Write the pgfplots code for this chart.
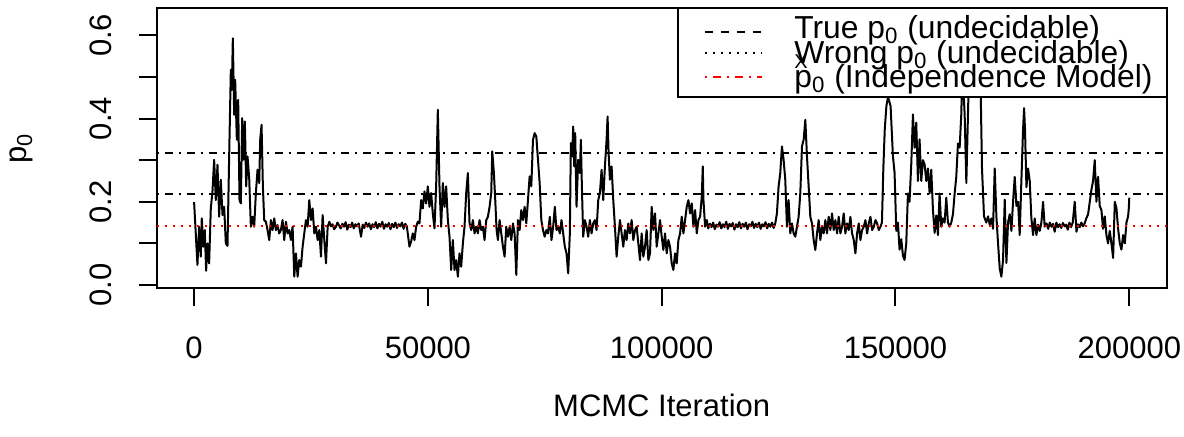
\documentclass[border=0pt]{standalone}
\usepackage{fontspec}
\setmainfont{Liberation Sans}
\usepackage{pgfplots}
\usepackage{pgfplotstable}
\pgfplotsset{compat=1.18}

% MCMC trace of p0
\pgfplotstableread{
it p0
0 0.199
714 0.048
1071 0.140
1428 0.068
1642 0.160
1999 0.092
2285 0.132
2570 0.034
2856 0.100
3213 0.052
3570 0.184
3927 0.225
4284 0.301
4641 0.204
4998 0.289
5355 0.164
5712 0.253
6069 0.168
6426 0.188
6783 0.100
7140 0.094
7497 0.309
7854 0.517
8068 0.469
8282 0.593
8568 0.409
8782 0.493
9139 0.349
9425 0.445
9710 0.204
9996 0.196
10282 0.401
10567 0.301
10853 0.393
11138 0.237
11424 0.309
11781 0.257
12138 0.140
12495 0.164
12852 0.140
13209 0.221
13566 0.277
13923 0.245
14137 0.349
14423 0.385
14708 0.237
14994 0.156
15351 0.152
15708 0.132
16065 0.108
16422 0.156
16779 0.132
17136 0.160
17493 0.132
17850 0.144
18207 0.124
18564 0.132
18921 0.156
19278 0.108
19635 0.152
19992 0.124
20349 0.132
20706 0.108
21063 0.140
21420 0.020
21777 0.076
22134 0.020
22491 0.060
22848 0.044
23205 0.092
23562 0.124
23919 0.156
24276 0.140
24633 0.204
24990 0.156
25347 0.184
25704 0.124
26061 0.140
26418 0.108
26775 0.132
27132 0.068
27489 0.168
27846 0.108
28203 0.052
28560 0.140
28917 0.152
29250 0.141
29600 0.146
29950 0.134
30300 0.139
30650 0.150
31000 0.143
31350 0.136
31700 0.147
32050 0.140
32400 0.151
32750 0.133
33100 0.145
33450 0.139
33800 0.150
34150 0.136
34500 0.146
34850 0.141
35200 0.148
35700 0.116
36050 0.145
36400 0.137
36750 0.150
37100 0.140
37450 0.148
37800 0.134
38150 0.146
38500 0.139
38850 0.151
39200 0.136
39550 0.147
39900 0.140
40250 0.152
40600 0.135
40950 0.146
41300 0.140
41650 0.149
42000 0.134
42350 0.147
42700 0.139
43050 0.150
43400 0.137
43750 0.146
44100 0.141
44450 0.150
44800 0.135
45150 0.147
45500 0.141
46053 0.092
46410 0.104
46767 0.124
47124 0.108
47481 0.140
47838 0.152
48195 0.148
48552 0.204
48909 0.184
49266 0.225
49623 0.196
49980 0.237
50337 0.188
50694 0.221
51051 0.172
51408 0.136
51765 0.237
52122 0.421
52479 0.237
52836 0.140
53193 0.245
53550 0.188
53907 0.237
54264 0.156
54621 0.116
54978 0.036
55335 0.108
55692 0.036
56049 0.060
56406 0.020
56763 0.076
57120 0.044
57477 0.100
57834 0.140
58191 0.221
58548 0.269
58905 0.148
59262 0.132
59619 0.156
59976 0.124
60333 0.140
60690 0.124
61047 0.156
61404 0.132
61761 0.140
62118 0.108
62475 0.156
62832 0.164
63189 0.188
63546 0.221
63760 0.321
64117 0.269
64403 0.204
64688 0.132
64974 0.108
65331 0.156
65688 0.124
66045 0.092
66402 0.068
66759 0.140
67116 0.116
67473 0.140
67830 0.108
68187 0.148
68544 0.124
68901 0.024
69258 0.156
69615 0.132
69972 0.180
70329 0.156
70686 0.188
71043 0.148
71400 0.204
71757 0.261
72114 0.237
72471 0.349
72828 0.365
73185 0.357
73542 0.301
73899 0.245
74256 0.156
74613 0.132
74970 0.116
75327 0.132
75684 0.124
76071 0.164
76429 0.108
76786 0.140
77143 0.188
77500 0.132
77857 0.140
78214 0.124
78571 0.156
78929 0.124
79286 0.092
79643 0.076
80000 0.028
80357 0.124
80571 0.341
80857 0.309
81071 0.381
81286 0.285
81500 0.365
81786 0.188
82143 0.301
82500 0.269
82714 0.349
82929 0.237
83214 0.116
83571 0.156
83929 0.140
84286 0.116
84643 0.156
85000 0.124
85357 0.148
85714 0.156
86071 0.132
86429 0.204
86786 0.221
87143 0.277
87500 0.204
87857 0.285
88214 0.349
88429 0.405
88643 0.317
88929 0.253
89286 0.285
89643 0.204
90000 0.140
90357 0.068
90714 0.116
91071 0.156
91429 0.124
91786 0.092
92143 0.132
92500 0.108
92857 0.148
93214 0.124
93571 0.156
93929 0.108
94286 0.132
94643 0.140
95000 0.100
95357 0.060
95714 0.124
96071 0.068
96429 0.092
96786 0.132
97143 0.060
97500 0.076
97857 0.188
98214 0.132
98571 0.172
98929 0.092
99286 0.124
99643 0.156
100000 0.116
100357 0.084
100714 0.124
101071 0.076
101429 0.108
101786 0.092
102143 0.052
102500 0.036
102857 0.076
103214 0.052
103571 0.108
103929 0.124
104286 0.164
104643 0.124
105000 0.156
105357 0.188
105714 0.204
106071 0.172
106429 0.196
106786 0.140
107143 0.180
107500 0.124
107857 0.156
108214 0.164
108571 0.213
108786 0.285
108929 0.204
109286 0.140
109643 0.156
109950 0.136
110300 0.147
110650 0.139
111000 0.150
111350 0.134
111700 0.145
112050 0.140
112400 0.151
112750 0.136
113100 0.146
113450 0.139
113800 0.152
114150 0.135
114500 0.147
114850 0.141
115200 0.149
115550 0.133
115900 0.146
116250 0.139
116600 0.151
116950 0.136
117300 0.147
117650 0.140
118000 0.150
118350 0.134
118700 0.146
119050 0.141
119400 0.152
119750 0.137
120100 0.147
120450 0.139
120800 0.150
121150 0.135
121500 0.146
121850 0.141
122200 0.151
122550 0.136
122900 0.147
123250 0.140
123600 0.150
123950 0.137
124286 0.148
124643 0.172
125000 0.237
125357 0.269
125714 0.333
126071 0.301
126429 0.253
126786 0.140
127143 0.204
127500 0.124
127857 0.148
128214 0.124
128571 0.116
128929 0.140
129286 0.164
129643 0.221
130000 0.333
130357 0.349
130714 0.397
131071 0.309
131429 0.237
131786 0.164
132143 0.148
132500 0.108
132857 0.084
133214 0.124
133571 0.156
133929 0.108
134286 0.140
134643 0.124
135000 0.156
135357 0.124
135714 0.164
136071 0.132
136429 0.172
136786 0.132
137143 0.156
137500 0.124
137857 0.164
138214 0.124
138571 0.140
138929 0.172
139286 0.124
139643 0.148
140000 0.132
140357 0.164
140714 0.124
141071 0.108
141429 0.076
141786 0.124
142143 0.148
142500 0.108
142857 0.132
143214 0.140
143571 0.156
143929 0.124
144286 0.148
144643 0.164
145000 0.132
145357 0.140
145714 0.156
146071 0.148
146429 0.132
146786 0.140
147100 0.150
147400 0.280
147700 0.373
148050 0.430
148400 0.452
148950 0.430
149450 0.310
149800 0.270
150170 0.130
150520 0.150
150870 0.085
151230 0.110
151600 0.070
151940 0.060
152300 0.100
152660 0.220
153000 0.200
153370 0.290
153730 0.410
154080 0.330
154440 0.390
154800 0.250
155150 0.350
155510 0.250
155870 0.300
156220 0.290
156580 0.250
156940 0.280
157300 0.220
157650 0.277
158010 0.180
158370 0.125
158720 0.167
159080 0.120
159430 0.220
159790 0.140
160150 0.160
160500 0.150
160860 0.210
161220 0.150
161580 0.140
161930 0.150
162290 0.170
162650 0.220
163000 0.260
163360 0.340
163720 0.330
164070 0.410
164300 0.520
164500 0.480
164790 0.410
165150 0.245
165500 0.410
165800 0.550
166100 0.640
166400 0.560
166700 0.610
167000 0.530
167300 0.580
167700 0.500
168000 0.550
168210 0.470
168500 0.280
168930 0.165
169420 0.150
169790 0.165
170150 0.145
170500 0.160
170860 0.135
171220 0.280
171580 0.165
171930 0.100
172290 0.040
172640 0.020
173000 0.060
173360 0.205
173720 0.053
174070 0.150
174430 0.170
174790 0.130
175140 0.200
175500 0.260
175860 0.190
176210 0.200
176560 0.120
176920 0.250
177280 0.373
177500 0.425
177700 0.373
178000 0.235
178350 0.280
178710 0.250
179060 0.160
179420 0.120
179770 0.160
180130 0.120
180490 0.145
180840 0.130
181200 0.150
181560 0.200
181910 0.140
182300 0.148
182650 0.135
183000 0.150
183350 0.140
183700 0.147
184050 0.128
184400 0.150
184750 0.139
185100 0.146
185450 0.137
185800 0.149
186150 0.141
186500 0.145
186850 0.133
187200 0.150
187550 0.139
187900 0.150
188330 0.200
188700 0.128
189050 0.146
189400 0.139
189750 0.150
190100 0.141
190450 0.148
190800 0.160
191190 0.170
191550 0.200
191900 0.229
192250 0.250
192610 0.300
192970 0.200
193320 0.260
193680 0.190
194040 0.180
194390 0.135
194750 0.165
195110 0.120
195460 0.100
195820 0.130
196180 0.100
196540 0.065
196900 0.200
197250 0.185
197610 0.135
197970 0.100
198320 0.085
198680 0.120
199040 0.100
199390 0.150
199750 0.165
199900 0.185
200000 0.210
}\tracetable

\begin{document}
\begin{tikzpicture}[font=\fontsize{15.5}{18}\selectfont]
\begin{axis}[
  name=ax,
  scale only axis, width=505pt, height=140pt,
  xmin=-8000, xmax=208000, ymin=-0.008, ymax=0.665,
  axis line style={line width=1pt},
  every tick/.style={black, line width=1pt},
  tick align=outside, major tick length=9pt,
  xtick pos=bottom, ytick pos=left,
  scaled ticks=false,
  xtick={0,50000,100000,150000,200000},
  xticklabels={0,50000,100000,150000,200000},
  ytick={0,0.1,0.2,0.3,0.4,0.5,0.6},
  yticklabels={0.0,,0.2,,0.4,,0.6},
  xticklabel style={anchor=north, inner sep=0pt, yshift=-15pt},
  yticklabel style={xshift=-13pt, rotate=90, anchor=south, inner sep=0pt},
  xlabel={MCMC Iteration},
  ylabel={p\textsubscript{0}},
  xlabel style={at={(axis description cs:0.5,-0.417)}, anchor=center},
  ylabel style={at={(axis description cs:-0.1337,0.5)}, anchor=center},
]
\addplot[black, line width=1pt, line join=round] table[x=it, y=p0] {\tracetable};

\addplot[black, line width=0.9pt, dash pattern=on 1pt off 3pt on 4pt off 3pt]
  coordinates {(-8000,0.317) (208000,0.317)};
\addplot[black, line width=0.9pt, dash pattern=on 1pt off 3pt on 4pt off 3pt]
  coordinates {(-8000,0.219) (208000,0.219)};
\addplot[red, line width=1pt, dash pattern=on 1pt off 3pt]
  coordinates {(-8000,0.142) (208000,0.142)};
\end{axis}

% legend box, as R draws it in the top right corner
\begin{scope}[font=\fontsize{15.9}{18}\selectfont]
\draw[line width=0.9pt, fill=white] ([xshift=-244.5pt,yshift=-44.5pt]ax.north east) rectangle (ax.north east);
\draw[black, line width=0.9pt, dash pattern=on 4pt off 4pt]
  ([xshift=-230.85pt,yshift=-11.7pt]ax.north east) -- ([xshift=-202.35pt,yshift=-11.7pt]ax.north east);
\draw[black, line width=0.9pt, dash pattern=on 1pt off 3pt]
  ([xshift=-230.85pt,yshift=-22.5pt]ax.north east) -- ([xshift=-202.35pt,yshift=-22.5pt]ax.north east);
\draw[red, line width=0.9pt, dash pattern=on 1pt off 3pt on 4pt off 3pt]
  ([xshift=-230.85pt,yshift=-34.5pt]ax.north east) -- ([xshift=-202.35pt,yshift=-34.5pt]ax.north east);
\node[anchor=base west, inner sep=0pt] at ([xshift=-186.35pt,yshift=-15pt]ax.north east)
  {True p\textsubscript{0} (undecidable)};
\node[anchor=base west, inner sep=0pt] at ([xshift=-186.35pt,yshift=-27.5pt]ax.north east)
  {\rlap{\raisebox{-2.5pt}{\fontsize{10}{10}\selectfont X}}Wrong p\textsubscript{0} (undecidable)};
\node[anchor=base west, inner sep=0pt] at ([xshift=-186.35pt,yshift=-39.5pt]ax.north east)
  {p\textsubscript{0} (Independence Model)};
\end{scope}

\pgfresetboundingbox
\path ([shift={(-78.35pt,-73.85pt)}]ax.south west) rectangle ([shift={(8.65pt,4.15pt)}]ax.north east);
\end{tikzpicture}
\end{document}
